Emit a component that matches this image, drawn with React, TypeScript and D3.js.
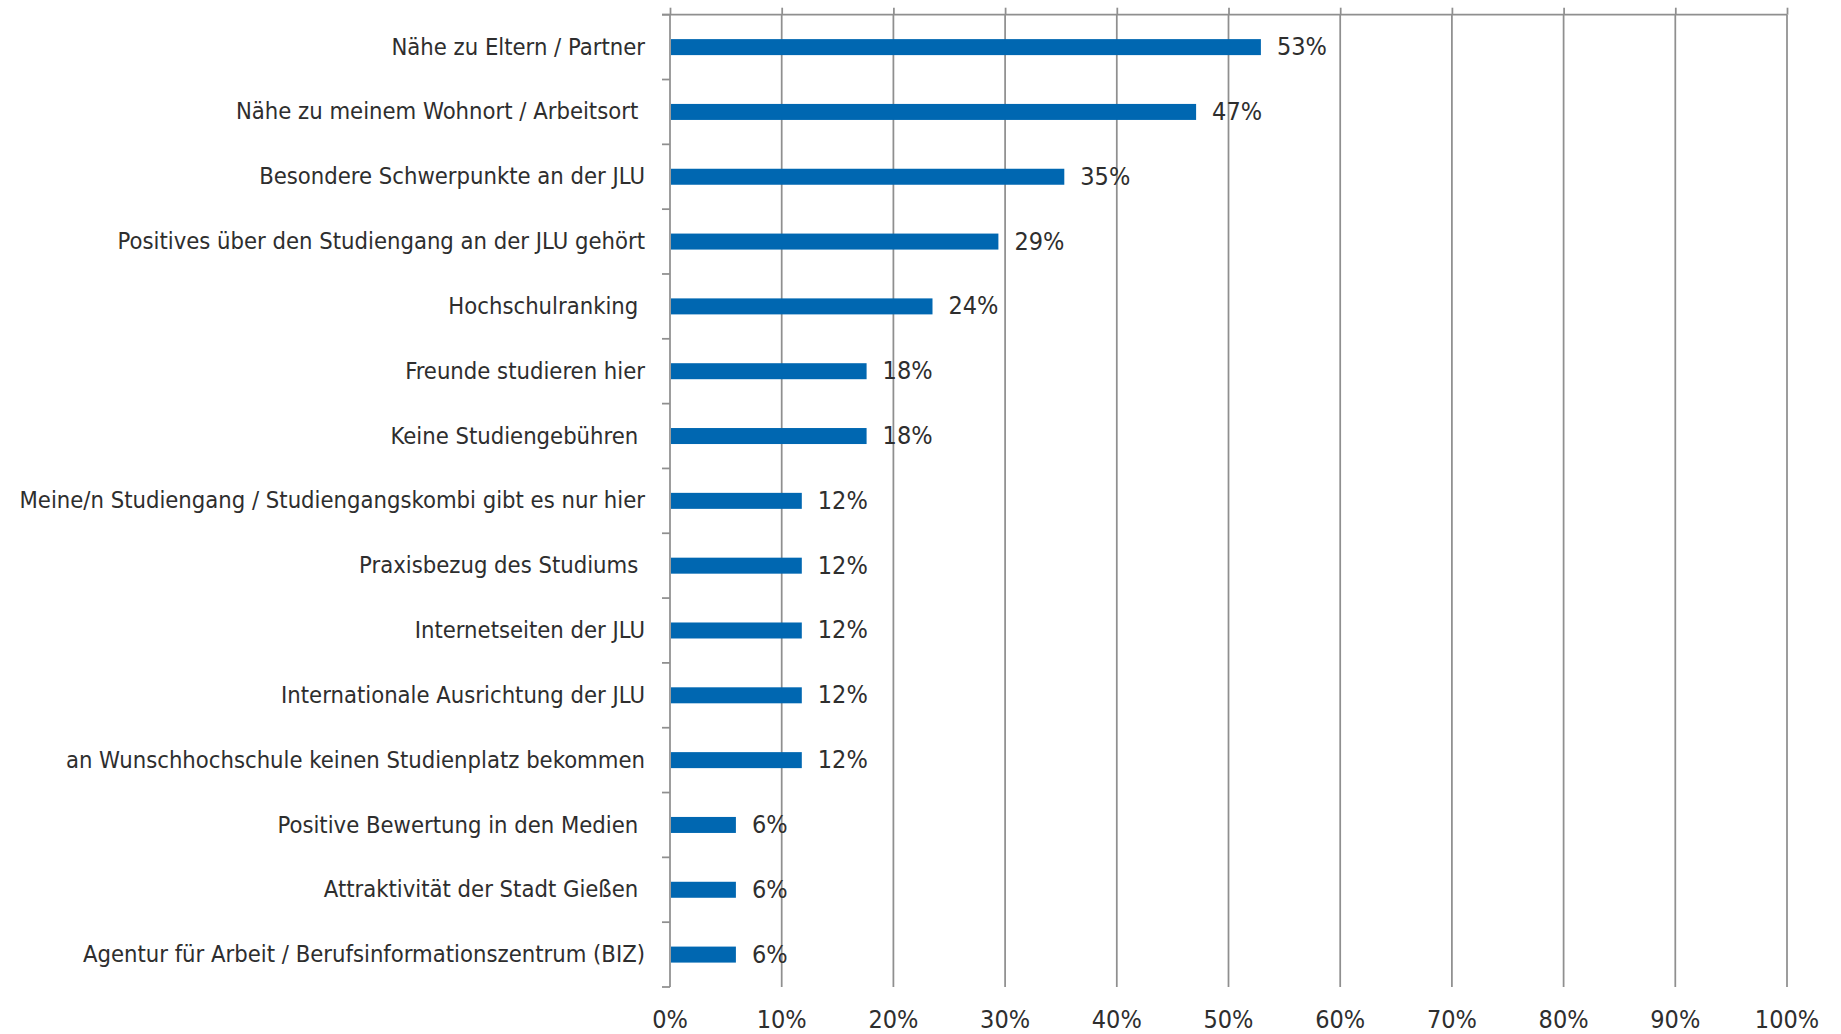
import React, { useEffect, useRef } from 'react';
import * as d3 from 'd3';

const categories = [
    'Nähe zu Eltern / Partner',
    'Nähe zu meinem Wohnort / Arbeitsort ',
    'Besondere Schwerpunkte an der JLU',
    'Positives über den Studiengang an der JLU gehört',
    'Hochschulranking ',
    'Freunde studieren hier',
    'Keine Studiengebühren ',
    'Meine/n Studiengang / Studiengangskombi gibt es nur hier',
    'Praxisbezug des Studiums ',
    'Internetseiten der JLU',
    'Internationale Ausrichtung der JLU',
    'an Wunschhochschule keinen Studienplatz bekommen',
    'Positive Bewertung in den Medien ',
    'Attraktivität der Stadt Gießen ',
    'Agentur für Arbeit / Berufsinformationszentrum (BIZ)'
];

const values = [52.9, 47.1, 35.3, 29.4, 23.5, 17.6, 17.6, 11.8, 11.8, 11.8, 11.8, 11.8, 5.9, 5.9, 5.9];

const tickValues = [0, 10, 20, 30, 40, 50, 60, 70, 80, 90, 100];

const FONT = "'Liberation Sans Narrow', 'DejaVu Sans Condensed', 'Roboto Condensed', sans-serif";

const App: React.FC = () => {
    const svgRef = useRef<SVGSVGElement>(null);
    const width = 1841;
    const height = 1034;

    useEffect(() => {
        const svg = d3.select(svgRef.current);
        svg.selectAll('*').remove();

        const left = 670, right = 1787, top = 14.7, bottom = 987;

        const x = d3.scaleLinear().domain([0, 100]).range([left, right]);
        const y = d3.scaleBand().domain(categories).range([top, bottom]).padding(0);
        const barH = 16;
        const grey = '#8f8f8f';
        const textColor = '#2e2e2e';

        // grid lines
        svg.append('g')
            .selectAll('line')
            .data(tickValues.slice(1))
            .enter()
            .append('line')
            .attr('x1', d => x(d)).attr('x2', d => x(d))
            .attr('y1', top).attr('y2', bottom)
            .attr('stroke', grey)
            .attr('stroke-width', 1.75);

        // top value axis (ticks pointing up)
        const topAxis = svg.append('g')
            .attr('transform', `translate(0,${top})`)
            .call(d3.axisTop(x).tickValues(tickValues).tickSize(7).tickSizeOuter(0).tickFormat(() => ''));
        topAxis.selectAll('line').attr('stroke', grey).attr('stroke-width', 1.75);
        topAxis.select('.domain').remove();
        topAxis.append('line')
            .attr('x1', left - 8).attr('x2', right)
            .attr('stroke', grey).attr('stroke-width', 1.75);

        // left category axis with ticks at band boundaries
        const g = svg.append('g');
        g.append('line')
            .attr('x1', left).attr('x2', left)
            .attr('y1', top).attr('y2', bottom)
            .attr('stroke', grey).attr('stroke-width', 1.75);
        const bounds = categories.map(c => y(c) || 0).concat([bottom]);
        g.selectAll('.ytick')
            .data(bounds)
            .enter()
            .append('line')
            .attr('x1', left - 8).attr('x2', left)
            .attr('y1', d => d).attr('y2', d => d)
            .attr('stroke', grey).attr('stroke-width', 1.75);

        // bars
        svg.append('g')
            .selectAll('rect')
            .data(values)
            .enter()
            .append('rect')
            .attr('x', left + 1)
            .attr('y', (d, i) => (y(categories[i]) || 0) + y.bandwidth() / 2 - barH / 2)
            .attr('width', d => x(d) - left - 1)
            .attr('height', barH)
            .attr('fill', '#0067b1');

        // value labels
        svg.append('g')
            .selectAll('text')
            .data(values)
            .enter()
            .append('text')
            .attr('x', d => x(d) + 16)
            .attr('y', (d, i) => (y(categories[i]) || 0) + y.bandwidth() / 2)
            .attr('dy', '0.32em')
            .style('font-family', FONT)
            .style('font-size', '25px')
            .style('fill', textColor)
            .text(d => `${Math.round(d)}%`);

        // category labels
        svg.append('g')
            .selectAll('text')
            .data(categories)
            .enter()
            .append('text')
            .attr('x', 645)
            .attr('y', d => (y(d) || 0) + y.bandwidth() / 2)
            .attr('dy', '0.32em')
            .attr('text-anchor', 'end')
            .style('white-space', 'pre')
            .style('font-family', FONT)
            .style('font-size', '23.6px')
            .style('fill', textColor)
            .text(d => d);

        // bottom tick labels
        svg.append('g')
            .selectAll('text')
            .data(tickValues)
            .enter()
            .append('text')
            .attr('x', d => x(d))
            .attr('y', 1028)
            .attr('text-anchor', 'middle')
            .style('font-family', FONT)
            .style('font-size', '25px')
            .style('fill', textColor)
            .text(d => `${d}%`);
    }, []);

    return (
        <svg
            ref={svgRef}
            width={width}
            height={height}
            style={{ position: 'absolute', left: 0, top: 0, background: '#fff' }}
        />
    );
};

export default App;
